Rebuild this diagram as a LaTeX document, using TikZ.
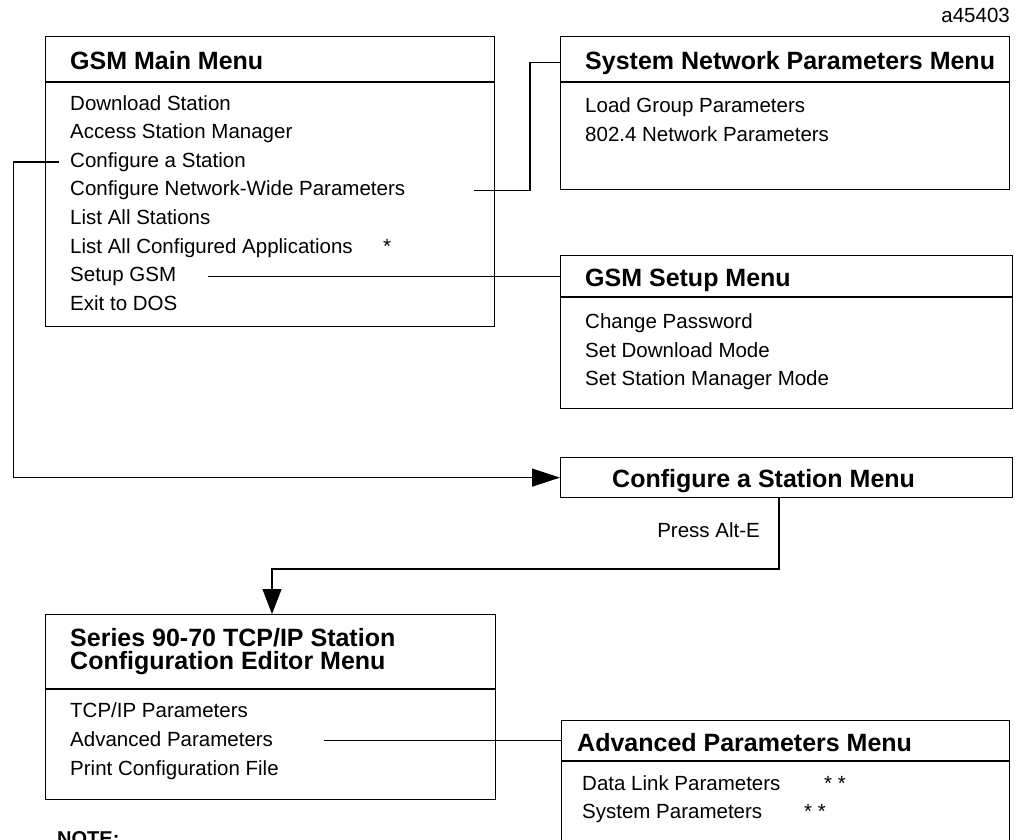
\documentclass[tikz,border=0pt]{standalone}
\usepackage{fontspec}
\setmainfont{Liberation Sans}
\usepackage{tikz}
\usetikzlibrary{positioning}
\usetikzlibrary{arrows.meta}

\tikzset{
  menu/.style={draw, line width=1.2pt, anchor=north west, inner sep=0pt},
  ttl/.style={anchor=base west, inner sep=0pt, text height=18pt, text depth=5pt, font=\fontsize{25}{22}\selectfont\bfseries},
  itm/.style={anchor=base west, inner sep=0pt, text height=14.5pt, text depth=4pt, font=\fontsize{20.5}{24}\selectfont},
  link/.style={line width=1.2pt},
  bigtip/.style={-{Triangle[length=28pt,width=18pt]}},
}

\begin{document}
\begin{tikzpicture}[x=1pt,y=-1pt]
  \useasboundingbox (0,0) rectangle (1016,839);
  \node[itm, anchor=base east] (figid) at (1010,22) {a45403};

  \node[menu, minimum width=449pt, minimum height=290pt] (mainM) at (45,36) {};
  \draw[link] (mainM.west |- 0,82) -- (mainM.east |- 0,82);
  \node[ttl] (mainT) at (70,69) {GSM Main Menu};
  \foreach \t [count=\i from 0] in {Download Station, Access Station Manager, Configure a Station, Configure Network-Wide Parameters, List All Stations, List All Configured Applications, Setup GSM, Exit to DOS}
    \node[itm] (m\i) at (70,{110+28.6*\i}) {\t};
  \node[itm] (star0) at (383,253.6) {*};

  \node[menu, minimum width=449pt, minimum height=153pt] (snpM) at (560,36) {};
  \draw[link] (snpM.west |- 0,82) -- (snpM.east |- 0,82);
  \node[ttl] (snpT) at (585,69) {System Network Parameters Menu};
  \node[itm] (n0) at (585,112) {Load Group Parameters};
  \node[itm] (n1) at (585,141) {802.4 Network Parameters};

  \node[menu, minimum width=452pt, minimum height=153pt] (setM) at (560,255) {};
  \draw[link] (setM.west |- 0,297) -- (setM.east |- 0,297);
  \node[ttl] (setT) at (585,286) {GSM Setup Menu};
  \node[itm] (g0) at (585,328) {Change Password};
  \node[itm] (g1) at (585,357) {Set Download Mode};
  \node[itm] (g2) at (585,385) {Set Station Manager Mode};

  \node[menu, minimum width=452pt, minimum height=40pt] (cfgM) at (560,457) {};
  \node[ttl] (cfgT) at (612,487) {Configure a Station Menu};
  \node[itm, anchor=base east] (altE) at (760,537) {Press Alt-E};

  \node[menu, minimum width=450pt, minimum height=185pt] (serM) at (45,614) {};
  \draw[link] (serM.west |- 0,689) -- (serM.east |- 0,689);
  \node[ttl, text height=, text depth=, align=left, anchor=north west, font=\fontsize{25}{23.5}\selectfont\bfseries] (serT) at (70,628) {Series 90-70 TCP/IP Station\\Configuration Editor Menu};
  \node[itm] (s0) at (70,717) {TCP/IP Parameters};
  \node[itm] (s1) at (70,746) {Advanced Parameters};
  \node[itm] (s2) at (70,775) {Print Configuration File};

  \node[menu, minimum width=448pt, minimum height=140pt] (advM) at (561,720) {};
  \draw[link] (advM.west |- 0,761) -- (advM.east |- 0,761);
  \node[ttl] (advT) at (577,751) {Advanced Parameters Menu};
  \node[itm] (a0) at (582,790) {Data Link Parameters};
  \node[itm] (a1) at (582,818) {System Parameters};
  \node[itm] (star1) at (824,790) {* *};
  \node[itm] (star2) at (804,818) {* *};

  \node[ttl, font=\fontsize{20}{24}\selectfont\bfseries] (note) at (57,845) {NOTE:};

  \draw[link, bigtip] ([xshift=-11pt]m2.west) -- (m2.west -| 13.5,0) |- (cfgM.west);
  \draw[link] (m3.west -| 474,0) -- (m3.west -| 530,0) |- (snpM.west |- snpT.west);
  \draw[link] (m6.west -| 208,0) -- (m6.west -| setM.west);
  \draw[link, -{Triangle[length=25pt,width=19pt]}] (cfgM.south -| 779,0) -- (779,569) -| (serM.north -| 272,0);
  \draw[link] (s1.west -| 324,0) -- (s1.west -| advM.west);
\end{tikzpicture}
\end{document}
